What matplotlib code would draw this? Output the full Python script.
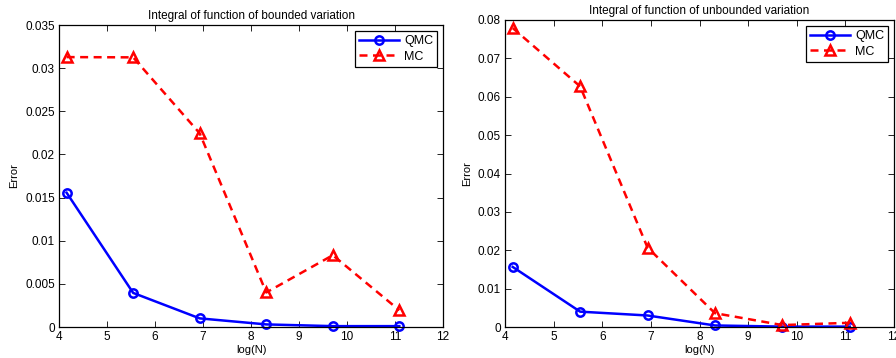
import matplotlib
matplotlib.use('Agg')
import matplotlib.pyplot as plt

plt.rcParams['font.family'] = ['Liberation Sans', 'DejaVu Sans']
plt.rcParams['font.size'] = 8

# log(N) for N = 64, 256, ..., 65536
log_n = [4.159, 5.545, 6.931, 8.318, 9.704, 11.090]

# bounded variation
qmc_bounded = [0.01556, 0.00395, 0.0010, 0.0003, 0.0001, 0.0001]
mc_bounded = [0.03128, 0.03125, 0.02245, 0.0040, 0.00832, 0.00194]

# unbounded variation
qmc_unbounded = [0.01565, 0.0040, 0.0030, 0.0004, 0.0001, 0.0001]
mc_unbounded = [0.0779, 0.0627, 0.0207, 0.0036, 0.0005, 0.0011]

titles = ['Integral of function of bounded variation',
          'Integral of function of unbounded variation']
ylims = [(0, 0.035), (0, 0.08)]
yticks = [[0, 0.005, 0.01, 0.015, 0.02, 0.025, 0.03, 0.035],
          [0, 0.01, 0.02, 0.03, 0.04, 0.05, 0.06, 0.07, 0.08]]
ytick_labels = [['0', '0.005', '0.01', '0.015', '0.02', '0.025', '0.03', '0.035'],
                ['0', '0.01', '0.02', '0.03', '0.04', '0.05', '0.06', '0.07', '0.08']]

fig = plt.figure(figsize=(8.96, 3.58), dpi=100)
ax1 = fig.add_axes([59 / 896, 1 - 327 / 358, (443 - 59) / 896, (327 - 25) / 358])
ax2 = fig.add_axes([505 / 896, 1 - 327 / 358, (894 - 505) / 896, (327 - 20) / 358])

data = [(qmc_bounded, mc_bounded), (qmc_unbounded, mc_unbounded)]

for i, ax in enumerate([ax1, ax2]):
    qmc, mc = data[i]
    ax.plot(log_n, qmc, color='blue', linestyle='-', linewidth=1.8,
            marker='o', markersize=6, markerfacecolor='none',
            markeredgewidth=1.8, label='QMC', clip_on=False)
    ax.plot(log_n, mc, color='red', linestyle='--', linewidth=1.8,
            dashes=(3.2, 2.2), marker='^', markersize=7, markerfacecolor='none',
            markeredgewidth=1.8, label='MC', clip_on=False)
    ax.set_xlim(4, 12)
    ax.set_ylim(*ylims[i])
    ax.set_xticks(range(4, 13))
    ax.set_yticks(yticks[i])
    ax.set_yticklabels(ytick_labels[i])
    ax.tick_params(direction='in', top=True, right=True, length=4,
                   width=0.6, labelsize=8.5, pad=3)
    for s in ax.spines.values():
        s.set_linewidth(0.9)
    ax.set_title(titles[i], fontsize=8.5, pad=4)
    ax.set_xlabel('log(N)', fontsize=8, labelpad=1)
    ax.set_ylabel('Error', fontsize=8, labelpad=4)
    leg = ax.legend(loc='upper right', fontsize=9, fancybox=False,
                    framealpha=1, edgecolor='black', handlelength=3.2,
                    borderpad=0.35, labelspacing=0.3, handletextpad=0.4,
                    borderaxespad=0.45)
    leg.get_frame().set_linewidth(0.9)

fig.savefig('out.png', dpi=100)
